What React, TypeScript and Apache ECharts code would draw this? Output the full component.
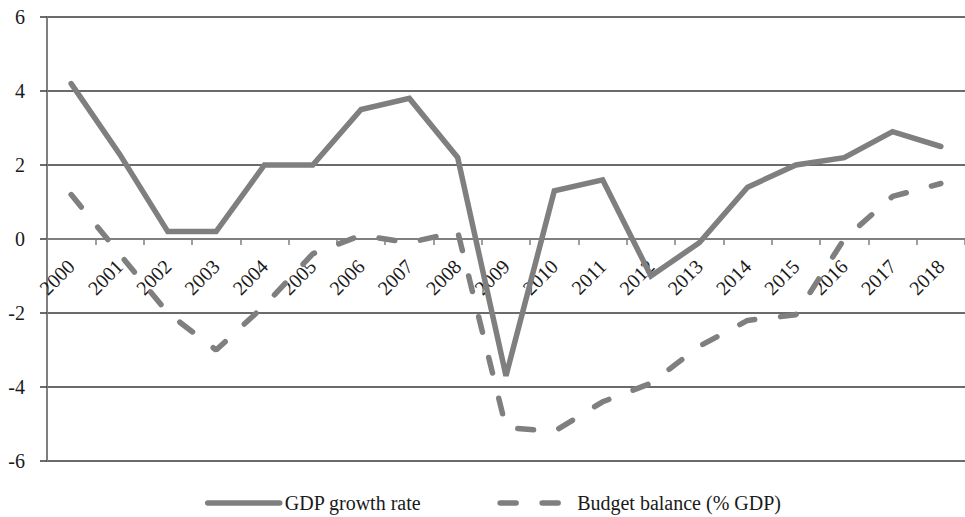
import React, { useEffect, useRef } from "react";
import * as echarts from "echarts";

const years = ["2000","2001","2002","2003","2004","2005","2006","2007","2008","2009","2010","2011","2012","2013","2014","2015","2016","2017","2018"];
const gdpGrowth = [4.2, 2.3, 0.2, 0.2, 2.0, 2.0, 3.5, 3.8, 2.2, -3.7, 1.3, 1.6, -1.0, -0.1, 1.4, 2.0, 2.2, 2.9, 2.5];
const budgetBalance = [1.2, -0.4, -2.0, -3.0, -1.8, -0.4, 0.1, -0.1, 0.2, -5.1, -5.2, -4.4, -3.9, -2.9, -2.2, -2.05, 0.0, 1.15, 1.5];
const seriesNames = ["GDP growth rate", "Budget balance (% GDP)"];

const FONT = "'Liberation Serif', 'DejaVu Serif', serif";
const GREY = "#7f7f7f";
const TEXT = "#1a1a1a";

export default function App() {
  const ref = useRef<HTMLDivElement>(null);
  useEffect(() => {
    if (!ref.current) return;
    const chart = echarts.init(ref.current, undefined, { renderer: "svg" });
    chart.setOption({
      animation: false,
      backgroundColor: "#ffffff",
      textStyle: { fontFamily: FONT },
      grid: { left: 47, right: -5, top: 17, bottom: 56, containLabel: false },
      legend: {
        left: 200,
        top: 488,
        itemWidth: 72,
        itemHeight: 20,
        itemGap: 76,
        itemStyle: { opacity: 0 },
        lineStyle: { width: 5.5, cap: "round" },
        textStyle: { fontFamily: FONT, fontSize: 20, color: TEXT },
        data: seriesNames,
      },
      xAxis: {
        type: "category",
        data: years,
        boundaryGap: true,
        offset: -222,
        axisLine: { show: true, onZero: false, lineStyle: { color: GREY, width: 2 } },
        axisTick: { show: true, length: 6, alignWithLabel: false, lineStyle: { color: GREY, width: 1.5 } },
        axisLabel: {
          rotate: 45,
          margin: 24,
          interval: 0,
          fontFamily: FONT,
          fontSize: 20,
          color: TEXT,
        },
        splitLine: { show: false },
      },
      yAxis: {
        type: "value",
        min: -6,
        max: 6,
        interval: 2,
        axisLine: { show: true, lineStyle: { color: GREY, width: 2 } },
        axisTick: { show: true, length: 7, lineStyle: { color: "#3a3a3a", width: 1.5 } },
        axisLabel: { margin: 22, fontFamily: FONT, fontSize: 20, color: TEXT },
        splitLine: { show: true, lineStyle: { color: "#3a3a3a", width: 1.5 } },
      },
      series: [
        {
          name: seriesNames[0],
          type: "line",
          data: gdpGrowth,
          symbol: "none",
          itemStyle: { color: GREY },
          lineStyle: { color: GREY, width: 5.5, cap: "round", join: "miter" },
          z: 3,
        },
        {
          name: seriesNames[1],
          type: "line",
          data: budgetBalance,
          symbol: "none",
          itemStyle: { color: GREY },
          lineStyle: { color: GREY, width: 5.5, type: [16, 26], cap: "round" },
          z: 2,
        },
      ],
    });
    return () => chart.dispose();
  }, []);
  return <div ref={ref} style={{ width: 965, height: 517, position: "absolute", left: 0, top: 0 }} />;
}
